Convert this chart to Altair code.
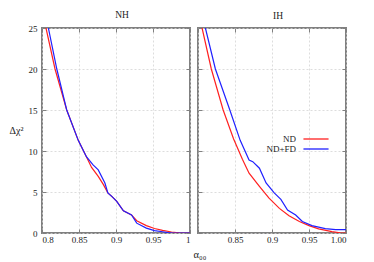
import altair as alt
import pandas as pd

# NH panel
nh_nd_x = [0.8054, 0.8176, 0.8334, 0.849, 0.860, 0.867, 0.876, 0.883, 0.889, 0.895, 0.901, 0.910, 0.921, 0.928, 0.941, 0.952, 0.963, 0.975, 0.985, 0.992, 1.0]
nh_nd_y = [25.0, 20.0, 15.0, 11.3, 9.3, 8.0, 6.9, 5.9, 4.9, 4.4, 3.85, 2.7, 2.2, 1.5, 0.9, 0.55, 0.32, 0.12, 0.03, 0.0, 0.0]
nh_fd_x = [0.8086, 0.820, 0.8334, 0.849, 0.860, 0.869, 0.876, 0.885, 0.889, 0.895, 0.901, 0.910, 0.921, 0.928, 0.941, 0.952, 0.963, 0.970, 0.976, 1.0]
nh_fd_y = [25.0, 20.0, 15.0, 11.3, 9.3, 8.3, 7.7, 6.1, 4.9, 4.4, 3.85, 2.7, 2.2, 1.2, 0.6, 0.3, 0.15, 0.05, 0.0, 0.0]

# IH panel
ih_nd_x = [0.8055, 0.818, 0.834, 0.848, 0.860, 0.869, 0.883, 0.896, 0.910, 0.923, 0.937, 0.950, 0.963, 0.981, 0.992, 1.0]
ih_nd_y = [25.0, 20.0, 15.0, 11.5, 9.0, 7.3, 5.7, 4.25, 3.0, 2.1, 1.4, 0.9, 0.5, 0.16, 0.03, 0.0]
ih_fd_x = [0.810, 0.8235, 0.843, 0.857, 0.869, 0.874, 0.883, 0.892, 0.903, 0.912, 0.921, 0.932, 0.941, 0.954, 0.972, 0.986, 1.0]
ih_fd_y = [25.0, 20.0, 15.0, 11.3, 8.9, 8.7, 7.9, 6.1, 4.9, 4.1, 2.8, 2.2, 1.4, 0.9, 0.53, 0.4, 0.4]

series_names = ["ND", "ND+FD"]
series_colors = ["#ff2020", "#2020ff"]
x_ticks = [0.8, 0.85, 0.9, 0.95, 1.0]
y_ticks = [0, 5, 10, 15, 20, 25]

rows = []
for panel, sets in [("NH", [(nh_nd_x, nh_nd_y), (nh_fd_x, nh_fd_y)]),
                    ("IH", [(ih_nd_x, ih_nd_y), (ih_fd_x, ih_fd_y)])]:
    for name, (xs, ys) in zip(series_names, sets):
        for i, (xv, yv) in enumerate(zip(xs, ys)):
            rows.append({"panel": panel, "series": name, "x": xv, "y": yv, "i": i})
df = pd.DataFrame(rows)

FONT = "Liberation Serif"
TXT = "#222222"
FRAME = "#808080"
W, H = 148, 205

cscale = alt.Scale(domain=series_names, range=series_colors)
yscale = alt.Scale(domain=[0, 25], nice=False)
xscale = alt.Scale(domain=[0.8, 1.0], nice=False, zero=False)

base_axis = dict(ticks=True, tickSize={"expr": "-4"}, tickColor=FRAME, tickWidth=1,
                 domain=False, labelFont=FONT, labelFontSize=9,
                 labelColor=TXT, titleFont=FONT, titleColor=TXT, titleFontWeight="normal")
grid_axis = dict(grid=True, gridColor="#d4d4d4", gridDash=[2, 2], gridWidth=0.8, **base_axis)
mirror_axis = dict(grid=False, labels=False, title=None, minExtent=0, maxExtent=0, **base_axis)


def make_panel(panel, x_axis, y_axis, legend):
    src = alt.Chart(df).transform_filter(alt.datum.panel == panel)
    lines = src.mark_line(clip=True, strokeWidth=1.2).encode(
        x=alt.X("x:Q", scale=xscale, axis=x_axis),
        y=alt.Y("y:Q", scale=yscale, axis=y_axis),
        color=alt.Color("series:N", scale=cscale, legend=legend),
        order="i:Q",
    )
    mirror = src.mark_point(opacity=0).encode(
        x=alt.X("x:Q", scale=xscale, axis=alt.Axis(orient="top", values=x_ticks, **mirror_axis)),
        y=alt.Y("y:Q", scale=yscale, axis=alt.Axis(orient="right", values=y_ticks, **mirror_axis)),
    )
    return alt.layer(lines, mirror).resolve_axis(x="independent", y="independent").properties(
        width=W, height=H,
        title=alt.TitleParams(panel, font=FONT, fontSize=9.5, fontWeight="normal", color=TXT,
                              offset=2, dx=6, dy=-3))


left = make_panel(
    "NH",
    alt.Axis(values=x_ticks, format="~g", title=None, labelPadding=6, **grid_axis),
    alt.Axis(values=y_ticks, title="Δχ²", titleAngle=0, titleX=-26, titleY=107, titleFontSize=10,
             labelPadding=9, **grid_axis),
    None,
)

right = make_panel(
    "IH",
    alt.Axis(values=x_ticks, labelExpr="datum.value < 0.81 ? '' : (datum.value > 0.99 ? '1.00' : format(datum.value, '~g'))",
             title="α₀₀", titleFontSize=10.5, titleAnchor="start", titleX=-5, titleY=16,
             labelPadding=6, **grid_axis),
    alt.Axis(values=y_ticks, labels=False, title=None, minExtent=0, **grid_axis),
    alt.Legend(title=None, orient="none", legendX=113, legendY=106,
               symbolType="M-3,0H3", symbolSize=70, symbolStrokeWidth=1.3,
               labelAlign="right", labelOffset={"expr": "-25"}, labelFont=FONT,
               labelFontSize=9, labelColor=TXT, rowPadding=0),
)

chart = alt.hconcat(left, right, spacing=-2).resolve_scale(color="independent").resolve_legend(
    color="independent"
).properties(
    padding={"left": 0, "top": 0, "right": 0, "bottom": 0}, background="white"
).configure_view(stroke=FRAME, strokeWidth=2)

chart.save("out.html", embed_options={"renderer": "svg", "actions": False})
